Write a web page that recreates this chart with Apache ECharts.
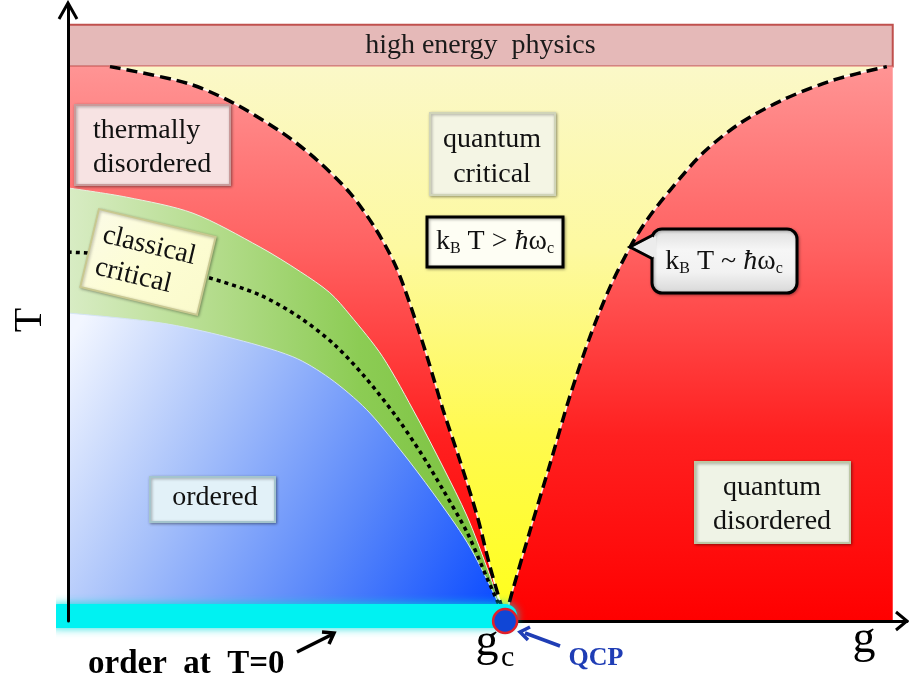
<!DOCTYPE html>
<html><head><meta charset="utf-8">
<script src="https://cdn.jsdelivr.net/npm/echarts@6/dist/echarts.min.js"></script>
<style>html,body{margin:0;padding:0;background:#fff}#c{width:909px;height:681px}</style>
</head><body><div id="c"></div>
<script>
// ---- data (g = tuning parameter, T = temperature, arbitrary units 0..100) ----
const gC = 52.1;          // quantum critical point
const gMax = 98.3;        // right edge of the diagram
const tTop = 90;          // top of the phase diagram
const tBand = 96.8;       // top of "high energy physics" band
const leftCrossover = [[5.0,90],[14.2,87.3],[19.7,84.1],[25.6,79.2],[29.7,74.8],[33.6,69.5],[36.6,63.8],[39.0,57.8],[40.8,51.3],[42.8,42.9],[44.7,34.3],[46.7,26.1],[48.8,16.9],[50.3,8.8],[52.1,0.4]];
const rightCrossover = [[52.1,0.4],[53.0,5.0],[55.1,14.8],[57.5,25.7],[59.8,36.4],[62.2,46.1],[64.6,54.2],[67.0,60.7],[69.0,65.1],[71.8,70.0],[75.7,76.0],[80.1,80.8],[85.2,84.6],[91.2,87.8],[97.6,90]];
const classicalUpper = [[0,70.3],[7.0,68.8],[14.9,66.2],[22.9,60.7],[27.7,56.7],[31.2,53.3],[33.6,49.7],[37.5,42.9],[41.6,33.1],[44.7,25.0],[47.6,16.9],[49.9,8.8],[52.1,0.4]];
const transitionLine = [[0,59.9],[7.0,59.1],[16.6,55.8],[22.9,52.9],[27.7,49.2],[31.8,44.8],[35.4,39.6],[39.0,33.4],[42.0,27.4],[44.7,21.3],[47.6,14.3],[49.9,7.1],[52.1,0.4]];
const classicalLower = [[0,50.0],[11.0,48.4],[19.0,46.1],[26.8,42.9],[31.2,39.4],[35.6,34.3],[39.6,27.8],[43.5,20.8],[47.6,12.7],[50.7,4.6],[52.1,0.4]];
const orderT0 = [[-1.2,0.8],[52.1,0.8]];
const qcp = [[52.1,0]];

const SERIF = '"Liberation Serif", "Times New Roman", serif';
const SM = 0.3;
function grad(x,y,x2,y2,stops){return {type:'linear',x:x,y:y,x2:x2,y2:y2,colorStops:stops.map((c,i)=>({offset:i/(stops.length-1),color:c}))};}

function boxEl(x,y,w,h,fill,stroke,sw,extra){return Object.assign({type:'rect',shape:{x:x,y:y,width:w,height:h},style:{fill:fill,stroke:stroke,lineWidth:sw,shadowBlur:3,shadowColor:'rgba(0,0,0,0.35)',shadowOffsetX:1,shadowOffsetY:1},z:100},extra||{});}
function txt(x,y,text,opt){return {type:'text',x:x,y:y,z:101,style:Object.assign({text:text,font:'28px '+SERIF,fill:'#111',align:'center',textAlign:'center',verticalAlign:'middle',textVerticalAlign:'middle'},opt||{})};}
const richK = {
  n:{font:'28px '+SERIF,lineHeight:30,fill:'#111'},
  i:{font:'italic 28px '+SERIF,lineHeight:30,fill:'#111'},
  s:{font:'16px '+SERIF,lineHeight:10,verticalAlign:'bottom',fill:'#111'}
};

const chart = echarts.init(document.getElementById('c'), null, {renderer:'canvas'});
const lineBase = {type:'line',symbol:'none',silent:true,smooth:SM,animation:false};
const vCurve = leftCrossover.concat(rightCrossover.slice(1));

chart.setOption({
  animation:false,
  grid:{left:68,right:2,top:5,bottom:60},
  xAxis:{type:'value',min:0,max:100,z:5,splitLine:{show:false},axisTick:{show:false},axisLabel:{show:false},
    axisLine:{show:true,onZero:false,lineStyle:{color:'#000',width:3}}},
  yAxis:{type:'value',min:0,max:100,z:30,splitLine:{show:false},axisTick:{show:false},axisLabel:{show:false},
    axisLine:{show:true,onZero:false,lineStyle:{color:'#000',width:3}}},
  series:[
    Object.assign({},lineBase,{name:'bg',data:[[0,tTop],[gMax,tTop]],smooth:false,lineStyle:{width:0},
      areaStyle:{origin:0,opacity:1,color:grad(0,0,0,1,['#ff9494','#ff6060','#ff2020','#ff0000'])},z:2}),
    Object.assign({},lineBase,{name:'qc',data:vCurve,lineStyle:{width:0},
      areaStyle:{origin:tTop,opacity:1,color:grad(0,0,0,1,['#fbf8c8','#fdf9a0','#fffa50','#ffff1a'])},z:2}),
    Object.assign({},lineBase,{name:'green',data:classicalUpper,lineStyle:{width:1,color:'#e8f2e0'},
      areaStyle:{origin:0,opacity:1,color:grad(0,0,1,0,['#d8ecc4','#b4dc8c','#8ccc54','#78c03c'])},z:2}),
    Object.assign({},lineBase,{name:'blue',data:classicalLower,lineStyle:{width:1,color:'#d4e4f4'},
      areaStyle:{origin:0,opacity:1,color:grad(0,0.1,1,0.9,['#f2f6ff','#a6c0fa','#5a88fa','#0c4cff'])},z:2}),
    Object.assign({},lineBase,{name:'band',data:[[0,tBand],[gMax,tBand]],smooth:false,lineStyle:{width:0},z:3,
      markArea:{silent:true,itemStyle:{color:'#e5b9b8',borderColor:'#c0504d',borderWidth:2},
        label:{show:true,position:'inside',formatter:'high energy  physics',fontFamily:SERIF,fontSize:28,color:'#1a1a1a'},
        data:[[{xAxis:0,yAxis:tTop},{xAxis:gMax,yAxis:tBand}]]}}),
    Object.assign({},lineBase,{name:'wl',data:leftCrossover,lineStyle:{width:1.5,color:'rgba(255,255,255,0.85)'},z:4}),
    Object.assign({},lineBase,{name:'wr',data:rightCrossover,lineStyle:{width:1.5,color:'rgba(255,255,255,0.85)'},z:4}),
    Object.assign({},lineBase,{name:'dl',data:leftCrossover,lineStyle:{width:3.5,color:'#000',type:[11,6]},z:4}),
    Object.assign({},lineBase,{name:'dr',data:rightCrossover,lineStyle:{width:3.5,color:'#000',type:[11,6]},z:4}),
    Object.assign({},lineBase,{name:'tc',data:transitionLine,lineStyle:{width:3.5,color:'#000',type:[4,4]},z:4}),
    Object.assign({},lineBase,{name:'order',data:orderT0,smooth:false,clip:false,z:8,
      lineStyle:{width:24,color:'#00f2f2',cap:'round',shadowBlur:10,shadowColor:'rgba(0,220,220,0.9)'}}),
    {type:'scatter',name:'QCP',data:qcp,symbolSize:24,silent:true,z:9,animation:false,
      itemStyle:{color:'#1046d6',borderColor:'#e0202a',borderWidth:2.5,opacity:1}}
  ],
  graphic:[
    {type:'polyline',shape:{points:[[59,19],[68,3],[77,19]]},style:{stroke:'#000',lineWidth:3,fill:null},z:110},
    {type:'polyline',shape:{points:[[896,612],[907,621],[896,630]]},style:{stroke:'#000',lineWidth:3,fill:null},z:110},
    boxEl(75,105,155,80,'#f7e3e3','#c99a9a',2),
    txt(93,131,'thermally',{align:'left',textAlign:'left'}),
    txt(93,165,'disordered',{align:'left',textAlign:'left'}),
    boxEl(430,113,125,82,'#f4f5e4','#d0d4b8',2),
    txt(492,140,'quantum'),
    txt(492,175,'critical'),
    boxEl(427,217,136,50,'#fefef4','#000',3,{}),
    {type:'text',x:495,y:242,z:101,style:{text:'{n|k}{s|B}{n| T > }{i|ħ}{n|ω}{s|c}',rich:richK,align:'center',textAlign:'center',verticalAlign:'middle',textVerticalAlign:'middle'}},
    {type:'rect',shape:{x:652,y:229,width:145,height:64,r:10},z:100,
      style:{fill:grad(0,0,0,1,['#dcdcdc','#f6f6f6','#f2f2f2','#d6d6d6']),stroke:'#000',lineWidth:3,shadowBlur:3,shadowColor:'rgba(0,0,0,0.3)',shadowOffsetX:1,shadowOffsetY:1}},
    {type:'polyline',shape:{points:[[653,235],[630,247],[653,259]]},style:{stroke:'#000',lineWidth:3,fill:'#ececec'},z:101},
    {type:'polygon',shape:{points:[[656,236],[634,247],[656,258]]},style:{fill:'#ececec'},z:101},
    {type:'text',x:724,y:262,z:102,style:{text:'{n|k}{s|B}{n| T ~ }{i|ħ}{n|ω}{s|c}',rich:richK,align:'center',textAlign:'center',verticalAlign:'middle',textVerticalAlign:'middle'}},
    {type:'group',x:148,y:262,rotation:-0.235,z:100,children:[
      {type:'rect',shape:{x:-60,y:-40,width:120,height:80},z:100,style:{fill:grad(0,0,1,1,['#fbfbe6','#fdfdd4','#fafacc']),stroke:'#c8c890',lineWidth:2,shadowBlur:3,shadowColor:'rgba(0,0,0,0.3)',shadowOffsetX:1,shadowOffsetY:1}},
      {type:'text',x:-50,y:-16,z:101,style:{text:'classical',font:'28px '+SERIF,fill:'#111',align:'left',textAlign:'left',verticalAlign:'middle',textVerticalAlign:'middle'}},
      {type:'text',x:-50,y:17,z:101,style:{text:'critical',font:'28px '+SERIF,fill:'#111',align:'left',textAlign:'left',verticalAlign:'middle',textVerticalAlign:'middle'}}
    ]},
    boxEl(150,477,125,45,'#e2f1f8','#a4c4cc',2),
    txt(215,498,'ordered'),
    boxEl(695,462,155,81,'#eff3e6','#bcc6a4',2),
    txt(772,488,'quantum'),
    txt(772,522,'disordered'),
    {type:'text',x:30,y:320,rotation:Math.PI/2,z:101,style:{text:'T',font:'40px '+SERIF,fill:'#000',align:'center',textAlign:'center',verticalAlign:'middle',textVerticalAlign:'middle'}},
    txt(864,640,'g',{font:'46px '+SERIF,fill:'#000'}),
    txt(487,643,'g',{font:'46px '+SERIF,fill:'#000'}),
    txt(501,658,'c',{font:'30px '+SERIF,fill:'#000',align:'left',textAlign:'left'}),
    {type:'line',shape:{x1:560,y1:646,x2:525,y2:633},style:{stroke:'#1f3db5',lineWidth:3.5},z:101},
    {type:'polyline',shape:{points:[[530,627],[520,632],[528,640]]},style:{stroke:'#1f3db5',lineWidth:3.5,fill:null},z:101},
    txt(596,658,'QCP',{font:'bold 26px '+SERIF,fill:'#1f3db5'}),
    txt(88,664,'order  at  T=0',{font:'bold 33px '+SERIF,fill:'#000',align:'left',textAlign:'left'}),
    {type:'line',shape:{x1:297,y1:652,x2:333,y2:634},style:{stroke:'#000',lineWidth:3.5},z:101},
    {type:'polyline',shape:{points:[[322,632],[334,633],[329,644]]},style:{stroke:'#000',lineWidth:3.5,fill:null},z:101}
  ]
});
</script>
</body></html>
